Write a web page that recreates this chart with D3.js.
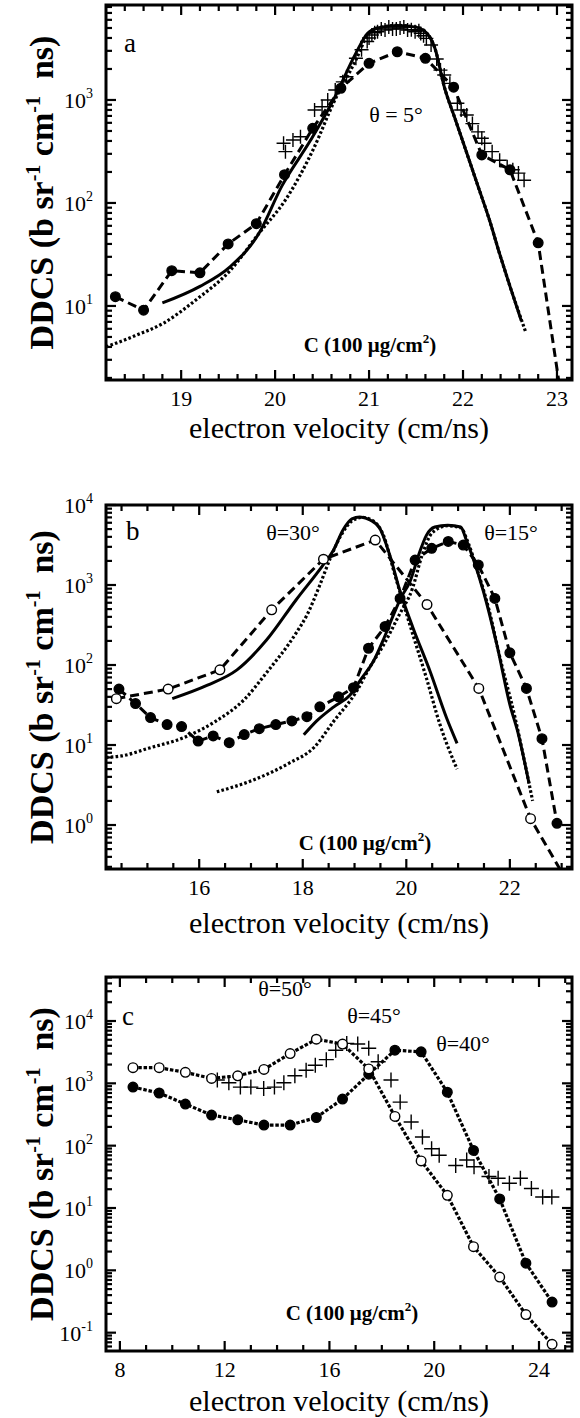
<!DOCTYPE html>
<html>
<head>
<meta charset="utf-8">
<script src="https://cdn.jsdelivr.net/npm/d3@7"></script>
<style>
  body { margin: 0; background: #fff; }
  text { font-family: "Liberation Serif", "Times New Roman", serif; fill: #000; }
</style>
</head>
<body>
<script>
// ---- panel a (theta = 5 deg) ----
const aCircV = [18.3, 18.6, 18.9, 19.2, 19.5, 19.8, 20.1, 20.4, 20.7, 21.0, 21.3, 21.6, 21.9, 22.2, 22.5, 22.8, 23.1];
const aCircY = [12.3, 9.1, 22, 21, 40, 63, 188, 530, 1300, 2270, 2940, 2540, 1330, 293, 210, 41, 0.6];
const aCircMarks = 16; // last point is only the dashed tail
const aPlusV = [20.09, 20.11, 20.19, 20.27, 20.42, 20.5, 20.56, 20.64, 20.72, 20.76, 20.86, 20.92, 20.98, 21.0, 21.03, 21.06, 21.09, 21.13, 21.17, 21.21, 21.25, 21.29, 21.33, 21.37, 21.41, 21.45, 21.49, 21.53, 21.55, 21.58, 21.61, 21.66, 21.72, 21.76, 21.8, 21.86, 21.94, 21.98, 22.04, 22.1, 22.16, 22.2, 22.23, 22.31, 22.39, 22.47, 22.53, 22.59, 22.65];
const aPlusY = [380, 315, 409, 440, 800, 860, 1000, 1250, 1500, 1680, 2540, 3070, 3700, 4000, 4270, 4500, 4600, 4900, 4780, 5100, 4880, 4900, 5000, 5100, 4780, 4800, 4600, 4700, 4430, 4200, 3960, 3420, 2500, 1950, 1750, 1450, 930, 800, 715, 590, 490, 425, 380, 315, 260, 225, 210, 195, 166];
const aSolidV = [18.8, 19.2, 19.52, 19.83, 20.07, 20.38, 20.62, 20.86, 20.98, 21.09, 21.3, 21.5, 21.62, 21.7, 21.8, 21.92, 22.04, 22.16, 22.28, 22.39, 22.5, 22.62];
const aSolidY = [10.7, 15.5, 24, 51, 145, 410, 1000, 2850, 4400, 5000, 5300, 5100, 4400, 3200, 1350, 640, 305, 145, 69, 32, 15.5, 7.2];
const aDotV = [18.2, 18.5, 18.81, 19.16, 19.52, 19.83, 20.11, 20.42, 20.62, 20.86, 20.98, 21.09, 21.3, 21.5, 21.62, 21.7, 21.8, 21.92, 22.04, 22.16, 22.28, 22.39, 22.5, 22.67];
const aDotY = [4.0, 5.1, 6.8, 11.5, 22, 51, 107, 353, 930, 2450, 4200, 5000, 5300, 5100, 4400, 3200, 1350, 640, 305, 145, 69, 32, 15.5, 5.5];

// ---- panel b (theta = 30 and 15 deg) ----
const bOpenV = [14.4, 15.4, 16.4, 17.4, 18.4, 19.4, 20.4, 21.4, 22.4, 23.1];
const bOpenY = [38, 50, 87, 490, 2100, 3650, 570, 51, 1.2, 0.2];
const bOpenMarks = 9;
const bFillV = [14.45, 14.77, 15.06, 15.38, 15.66, 15.98, 16.27, 16.58, 16.87, 17.16, 17.48, 17.79, 18.08, 18.33, 18.69, 18.98, 19.27, 19.59, 19.88, 20.17, 20.49, 20.81, 21.1, 21.39, 21.71, 22.0, 22.32, 22.62, 22.91];
const bFillY = [50, 33, 22, 18, 17, 11.2, 13, 10.7, 13.5, 16, 18, 20, 22.6, 30, 40, 52, 162, 303, 680, 2050, 2870, 3500, 3160, 1780, 680, 142, 51, 12, 1.05];
const bSolid30V = [15.48, 16.16, 16.73, 17.3, 17.87, 18.37, 18.59, 18.78, 18.95, 19.1, 19.3, 19.49, 19.68, 19.88, 20.13, 20.46, 20.78, 20.98];
const bSolid30Y = [38, 56, 87, 205, 650, 1700, 2700, 4900, 6700, 7100, 6500, 5100, 2370, 830, 290, 83, 21.6, 10.5];
const bDot30V = [14.2, 14.5, 15.02, 15.73, 16.3, 16.87, 17.3, 17.87, 18.08, 18.33, 18.53, 18.75, 18.95, 19.15, 19.35, 19.55, 19.78, 20.07, 20.39, 20.65, 20.98];
const bDot30Y = [7.0, 7.3, 9.1, 12.6, 19.5, 37, 80, 250, 420, 1000, 2150, 4300, 6300, 7000, 6400, 4300, 1330, 316, 68, 18, 5.0];
const bSolid15V = [18.02, 18.27, 18.6, 18.91, 19.15, 19.36, 19.56, 19.75, 19.9, 20.07, 20.26, 20.39, 20.55, 20.8, 21.05, 21.17, 21.29, 21.49, 21.75, 22.0, 22.16, 22.37];
const bSolid15Y = [13.4, 20, 30, 42, 70, 110, 210, 420, 700, 1100, 2600, 4200, 5300, 5600, 5300, 3480, 2150, 830, 178, 32, 14, 3.3];
const bDot15V = [16.34, 17.02, 17.73, 18.23, 18.59, 19.04, 19.3, 19.56, 19.86, 20.12, 20.3, 20.5, 20.8, 21.05, 21.2, 21.35, 21.6, 21.8, 22.1, 22.3, 22.44];
const bDot15Y = [2.6, 3.6, 5.9, 9.5, 19.5, 47, 95, 178, 420, 910, 2300, 4500, 5500, 5200, 3300, 1700, 480, 130, 22, 5.5, 2.0];

// ---- panel c (theta = 50, 45, 40 deg) ----
const cCircV = [8.5, 9.5, 10.5, 11.5, 12.5, 13.5, 14.5, 15.5, 16.5, 17.5, 18.5, 19.5, 20.5, 21.5, 22.5, 23.5, 24.5];
const cOpenY = [1780, 1780, 1500, 1200, 1320, 1670, 3000, 5100, 4270, 1700, 295, 57, 16, 2.4, 0.78, 0.195, 0.065];
const cFillY = [870, 700, 465, 310, 260, 214, 214, 283, 560, 1400, 3400, 3200, 720, 84, 14, 1.3, 0.31];
const cPlusV = [11.72, 12.16, 12.6, 13.0, 13.49, 13.9, 14.26, 14.68, 15.11, 15.46, 15.88, 16.24, 16.66, 17.08, 17.5, 17.86, 18.35, 18.7, 19.12, 19.55, 19.9, 20.19, 20.82, 21.24, 21.52, 22.09, 22.44, 22.87, 23.29, 23.71, 24.14, 24.49];
const cPlusY = [1130, 1020, 870, 870, 830, 870, 1020, 1320, 1620, 1950, 2400, 3400, 4370, 4270, 3650, 2220, 1130, 500, 240, 138, 89, 70, 48, 59, 46, 32, 30, 25, 30, 20.6, 15, 15];

// ---- axes ----
const aXTicks = [19, 20, 21, 22, 23];
const bXTicks = [16, 18, 20, 22];
const cXTicks = [8, 12, 16, 20, 24];
const aYExps = [1, 2, 3];
const bYExps = [0, 1, 2, 3, 4];
const cYExps = [-1, 0, 1, 2, 3, 4];

const W = 580, H = 1418;
const L = 106, R = 572;

const svg = d3.select("body").append("svg")
    .attr("width", W)
    .attr("height", H);

const pts = (xs, ys) => xs.map((x, i) => ({ x, y: ys[i] }));

function drawPanel(p) {
    const x = d3.scaleLinear().domain(p.xDomain).range([L, R]);
    const y = d3.scaleLog().domain(p.yDomain).range([p.bottom, p.top]);
    const g = svg.append("g");

    const clipId = "clip-" + p.letter;
    svg.append("clipPath").attr("id", clipId)
        .append("rect")
        .attr("x", L).attr("y", p.top)
        .attr("width", R - L).attr("height", p.bottom - p.top);

    // ticks on all four sides, pointing inward
    const tick = (x1, y1, x2, y2, w) => g.append("line")
        .attr("x1", x1).attr("y1", y1).attr("x2", x2).attr("y2", y2)
        .attr("stroke", "#000").attr("stroke-width", w);

    const xMinor = d3.range(p.xDomain[0], p.xDomain[1], p.xMinor / 4)
        .map(v => Math.round(v / p.xMinor) * p.xMinor)
        .filter((v, i, arr) => arr.indexOf(v) === i && v > p.xDomain[0] && v < p.xDomain[1]);
    xMinor.forEach(v => {
        const major = p.xTicks.some(t => Math.abs(t - v) < 1e-6);
        const len = major ? 10 : 6;
        tick(x(v), p.bottom, x(v), p.bottom - len, 2.2);
        tick(x(v), p.top, x(v), p.top + len, 2.2);
    });

    const lo = Math.floor(Math.log10(p.yDomain[0])), hi = Math.ceil(Math.log10(p.yDomain[1]));
    for (let e = lo; e <= hi; e++) {
        for (let m = 1; m <= 9; m++) {
            const v = m * Math.pow(10, e);
            if (v < p.yDomain[0] || v > p.yDomain[1] * 1.0001) continue;
            const len = m === 1 ? 10 : 6;
            tick(L, y(v), L + len, y(v), 2.2);
            tick(R, y(v), R - len, y(v), 2.2);
        }
    }

    g.append("rect")
        .attr("x", L).attr("y", p.top)
        .attr("width", R - L).attr("height", p.bottom - p.top)
        .attr("fill", "none").attr("stroke", "#000").attr("stroke-width", 3);

    // tick labels
    p.xTicks.forEach(v => {
        g.append("text").attr("x", x(v)).attr("y", p.bottom + 26)
            .attr("text-anchor", "middle").style("font-size", "22px").text(v);
    });
    p.yExps.forEach(e => {
        const t = g.append("text").attr("x", 93).attr("y", y(Math.pow(10, e)) + 8)
            .attr("text-anchor", "end").style("font-size", "22px");
        t.append("tspan").text("10");
        t.append("tspan").attr("dy", -10).style("font-size", "14px").text(e);
    });

    // axis titles
    g.append("text").attr("x", (L + R) / 2).attr("y", p.titleY)
        .attr("text-anchor", "middle").style("font-size", "30px")
        .text("electron velocity (cm/ns)");
    const yt = g.append("text")
        .attr("transform", `translate(53,${(p.top + p.bottom) / 2}) rotate(-90)`)
        .attr("text-anchor", "middle").style("font-size", "34px").style("font-weight", "bold");
    yt.append("tspan").text("DDCS (b sr");
    yt.append("tspan").attr("dy", -13).style("font-size", "20px").text("-1");
    yt.append("tspan").attr("dy", 13).text("\u00a0cm");
    yt.append("tspan").attr("dy", -13).style("font-size", "20px").text("-1");
    yt.append("tspan").attr("dy", 13).text("\u00a0\u00a0ns)");

    // panel letter and labels
    g.append("text").attr("x", p.letterX).attr("y", p.letterY).style("font-size", "27px").text(p.letter);
    p.angles.forEach(a => {
        g.append("text").attr("x", a.x).attr("y", a.y).attr("text-anchor", "middle")
            .style("font-size", "22px").text(a.t);
    });
    const tg = g.append("text").attr("x", p.targetX).attr("y", p.targetY)
        .attr("text-anchor", "middle").style("font-size", "21px").style("font-weight", "bold");
    tg.append("tspan").text("C (100 \u03bcg/cm");
    tg.append("tspan").attr("dy", -9).style("font-size", "13px").text("2");
    tg.append("tspan").attr("dy", 9).text(")");

    const plot = g.append("g").attr("clip-path", `url(#${clipId})`);
    const line = d3.line().x(d => x(d.x)).y(d => y(d.y)).curve(d3.curveMonotoneX);
    const straight = d3.line().x(d => x(d.x)).y(d => y(d.y));

    return { g, plot, x, y, line, straight };
}

const styles = {
    solid: { dash: null, w: 3 },
    dashed: { dash: "9,5", w: 3 },
    dotted: { dash: "2.6,2.2", w: 3.2 },
    cdots: { dash: "3.5,1.8", w: 3.2 }
};

function drawLine(P, data, style, smooth) {
    P.plot.append("path")
        .datum(data)
        .attr("fill", "none")
        .attr("stroke", "#000")
        .attr("stroke-width", styles[style].w)
        .attr("stroke-dasharray", styles[style].dash)
        .attr("d", smooth ? P.line : P.straight);
}

function drawMarks(P, data, kind, r) {
    if (kind === "plus") {
        const s = r;
        P.g.append("g").selectAll("path").data(data).join("path")
            .attr("d", d => `M${P.x(d.x) - s},${P.y(d.y)}h${2 * s}M${P.x(d.x)},${P.y(d.y) - s}v${2 * s}`)
            .attr("stroke", "#000").attr("stroke-width", 1.4).attr("fill", "none");
    } else {
        P.g.append("g").selectAll("circle").data(data).join("circle")
            .attr("cx", d => P.x(d.x)).attr("cy", d => P.y(d.y)).attr("r", r)
            .attr("fill", kind === "filled" ? "#000" : "#fff")
            .attr("stroke", "#000").attr("stroke-width", 1.4);
    }
}

// panel a
const A = drawPanel({
    letter: "a", top: 5, bottom: 380, xDomain: [18.2, 23.16], yDomain: [1.91, 8360],
    xTicks: aXTicks, xMinor: 0.2, yExps: aYExps, titleY: 438,
    letterX: 124, letterY: 52,
    angles: [{ t: "\u03b8 = 5\u00b0", x: 396, y: 122 }],
    targetX: 370, targetY: 352
});
drawLine(A, pts(aDotV, aDotY), "dotted", true);
drawLine(A, pts(aSolidV, aSolidY), "solid", true);
drawLine(A, pts(aCircV, aCircY), "dashed", false);
drawMarks(A, pts(aPlusV, aPlusY), "plus", 7);
drawMarks(A, pts(aCircV, aCircY).slice(0, aCircMarks), "filled", 4.8);

// panel b
const B = drawPanel({
    letter: "b", top: 505, bottom: 869, xDomain: [14.2, 23.2], yDomain: [0.282, 10000],
    xTicks: bXTicks, xMinor: 0.5, yExps: bYExps, titleY: 933,
    letterX: 126, letterY: 540,
    angles: [{ t: "\u03b8=30\u00b0", x: 293, y: 540 }, { t: "\u03b8=15\u00b0", x: 511, y: 540 }],
    targetX: 365, targetY: 850
});
drawLine(B, pts(bDot30V, bDot30Y), "dotted", true);
drawLine(B, pts(bDot15V, bDot15Y), "dotted", true);
drawLine(B, pts(bSolid30V, bSolid30Y), "solid", true);
drawLine(B, pts(bSolid15V, bSolid15Y), "solid", true);
drawLine(B, pts(bOpenV, bOpenY), "dashed", false);
drawLine(B, pts(bFillV, bFillY), "dashed", false);
drawMarks(B, pts(bFillV, bFillY), "filled", 4.8);
drawMarks(B, pts(bOpenV, bOpenY).slice(0, bOpenMarks), "open", 4.8);

// panel c
const C = drawPanel({
    letter: "c", top: 977, bottom: 1351, xDomain: [7.47, 25.26], yDomain: [0.0508, 50800],
    xTicks: cXTicks, xMinor: 1, yExps: cYExps, titleY: 1411,
    letterX: 122, letterY: 1025,
    angles: [{ t: "\u03b8=50\u00b0", x: 285, y: 996 }, { t: "\u03b8=45\u00b0", x: 374, y: 1023 }, { t: "\u03b8=40\u00b0", x: 463, y: 1051 }],
    targetX: 352, targetY: 1320
});
drawLine(C, pts(cCircV, cOpenY), "cdots", false);
drawLine(C, pts(cCircV, cFillY), "cdots", false);
drawMarks(C, pts(cPlusV, cPlusY), "plus", 7.5);
drawMarks(C, pts(cCircV, cFillY), "filled", 4.8);
drawMarks(C, pts(cCircV, cOpenY), "open", 4.8);
</script>
</body>
</html>
